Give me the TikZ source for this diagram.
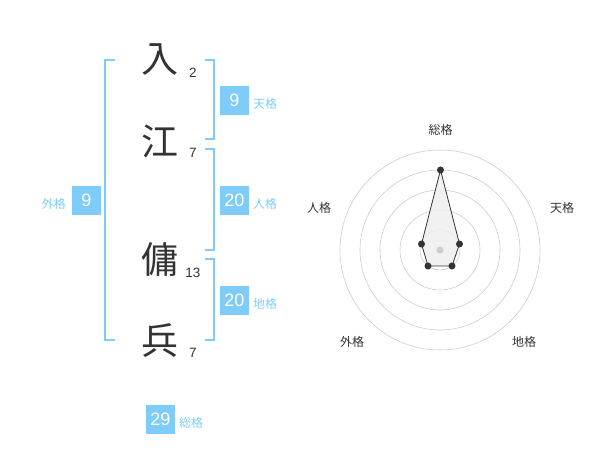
\documentclass[tikz,border=0pt]{standalone}
\usepackage{fontspec}
\setmainfont{Liberation Sans}
\newfontfamily\cjk{Noto Sans CJK JP}
\definecolor{sky}{RGB}{127,204,250}
\definecolor{ink}{RGB}{51,51,51}
\definecolor{ring}{RGB}{204,204,204}
\definecolor{polyfill}{RGB}{238,238,238}
\begin{document}
\begin{tikzpicture}[x=1pt,y=-1pt,
  bigchar/.style={font=\cjk\fontsize{37}{37}\selectfont,text=ink,inner sep=0pt},
  strokes/.style={font=\fontsize{13.5}{13.5}\selectfont,text=ink,inner sep=0pt},
  valbox/.style={fill=sky,text=white,minimum width=29pt,minimum height=29pt,inner sep=0pt,font=\fontsize{18}{18}\selectfont},
  kaku/.style={font=\cjk\fontsize{12}{12}\selectfont,text=sky,inner sep=0pt},
  bracket/.style={draw=sky,line width=1.5pt},
  radarlbl/.style={font=\cjk\fontsize{12}{12}\selectfont,text=ink,inner sep=0pt},
  ringline/.style={draw=ring,line width=0.6pt},
  dot/.style={circle,fill=ink,inner sep=0pt,minimum size=7pt}]
\useasboundingbox (0,0) rectangle (600,470);
% characters
\node[bigchar] (c1) at (160,60) {入};
\node[bigchar] (c2) at (160,141) {江};
\node[bigchar] (c3) at (160,260) {傭};
\node[bigchar] (c4) at (160,341) {兵};
\node[strokes] (s1) at (193,73) {2};
\node[strokes] (s2) at (193,153) {7};
\node[strokes] (s3) at (193,273) {13};
\node[strokes] (s4) at (193,353) {7};
% brackets
\draw[bracket] (115,60) -- (105,60) -- (105,340) -- (115,340);
\draw[bracket] (205,60) -- (214,60) -- (214,139) -- (205,139);
\draw[bracket] (205,149) -- (214,149) -- (214,250) -- (205,250);
\draw[bracket] (205,259) -- (214,259) -- (214,340) -- (205,340);
% value boxes
\node[valbox] (ten) at (234.5,100.5) {9};
\node[kaku,anchor=west] (tenl) at (253,104) {天格};
\node[valbox] (jin) at (234.5,200.5) {20};
\node[kaku,anchor=west] (jinl) at (253,204) {人格};
\node[valbox] (chi) at (234.5,300.5) {20};
\node[kaku,anchor=west] (chil) at (253,304) {地格};
\node[valbox] (gai) at (86.5,200.5) {9};
\node[kaku,anchor=east] (gail) at (66,204) {外格};
\node[valbox] (sou) at (160.5,419.5) {29};
\node[kaku,anchor=west] (soul) at (179,423) {総格};
% radar
\coordinate (o) at (440,250);
\foreach \r in {20,40,60,80,100} \draw[ringline] (o) circle[radius=\r];
\coordinate (pSou) at (440.5,170);
\coordinate (pTen) at (459.5,244);
\coordinate (pChi) at (452,266);
\coordinate (pGai) at (428,266);
\coordinate (pJin) at (421.5,244);
\filldraw[fill=polyfill,fill opacity=0.8,draw=ink,line width=0.8pt] (pSou) -- (pTen) -- (pChi) -- (pGai) -- (pJin) -- cycle;
\node[circle,fill=ring,inner sep=0pt,minimum size=7pt] (ctr) at (o) {};
\foreach \p in {pSou,pTen,pChi,pGai,pJin} \node[dot] at (\p) {};
\node[radarlbl] (lSou) at (440.5,130) {総格};
\node[radarlbl] (lTen) at (562,208) {天格};
\node[radarlbl] (lChi) at (524,342) {地格};
\node[radarlbl] (lGai) at (352,342) {外格};
\node[radarlbl] (lJin) at (319,208) {人格};
\end{tikzpicture}
\end{document}
